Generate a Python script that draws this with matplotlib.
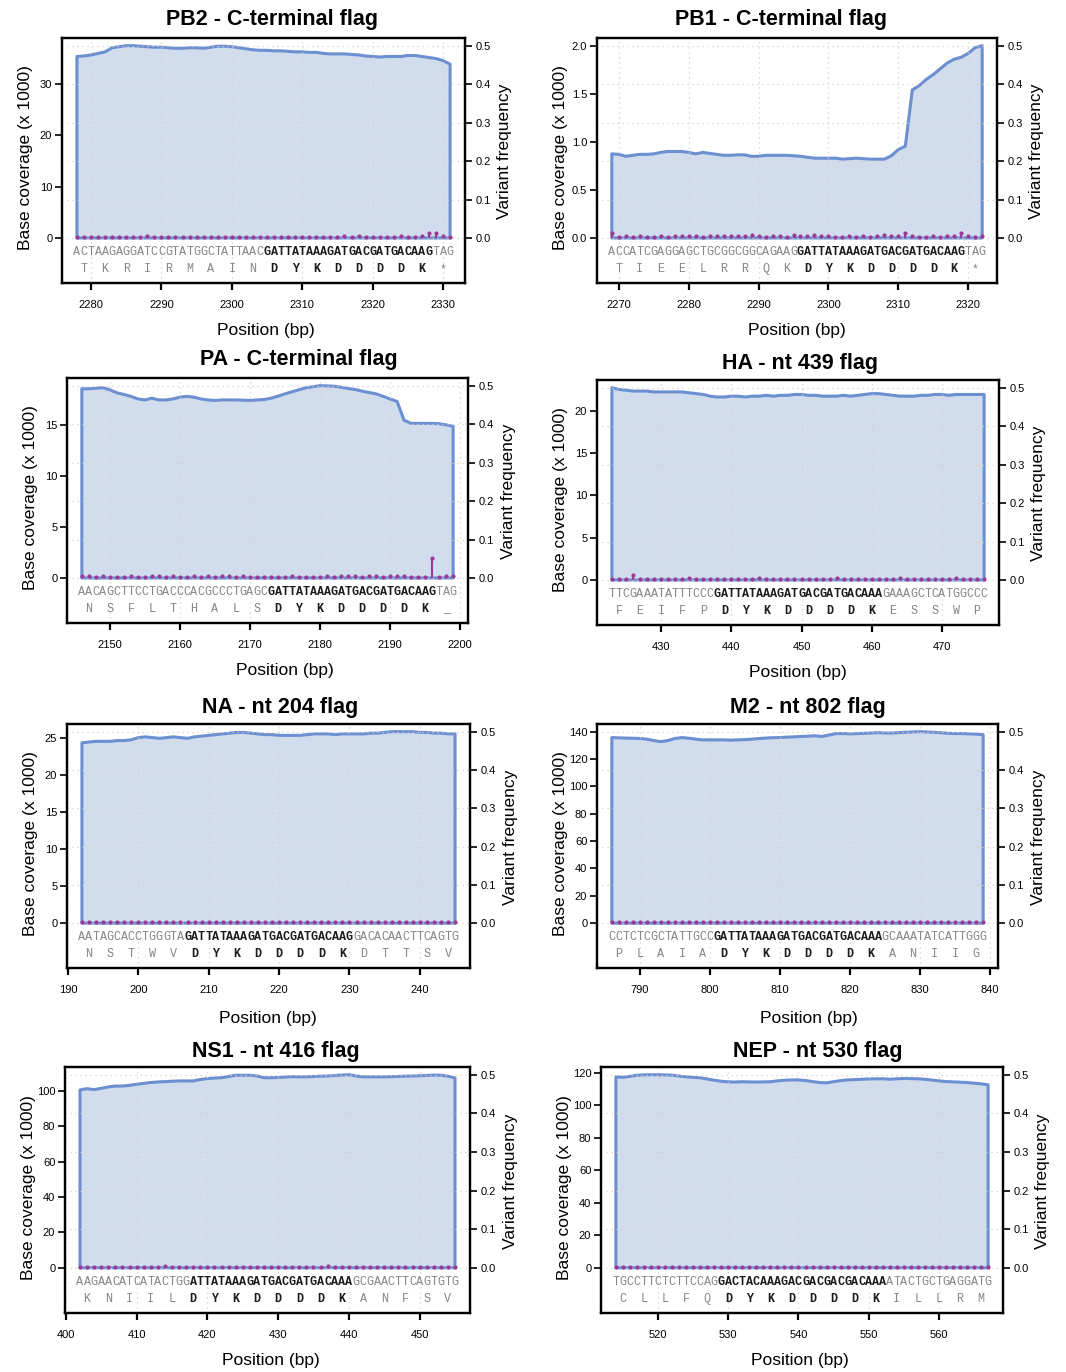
import numpy as np
import matplotlib.pyplot as plt

plt.rcParams['font.family'] = ['Liberation Sans', 'DejaVu Sans']

W, H = 1066, 1372
line_col = '#6b8fd1'
fill_col = '#d1dcec'
var_col = '#9a3a96'
grid_col = '#d9cfcf'
seq_gray = '#858585'
seq_dark = '#1a1a1a'

# ---- data (coverage in x1000 reads, one value per bp) ----
# nucleotides / amino acids: upper case = flag (bold), lower case = context
pb2_start = 2278
pb2_cov = [35.3, 35.4, 35.6, 35.9, 36.2, 37.0, 37.2, 37.4, 37.4,
           37.3, 37.2, 37.1, 37.1, 37.0, 36.9, 36.9, 37.0, 37.0,
           36.9, 37.1, 37.3, 37.3, 37.2, 37.0, 36.8, 36.6, 36.5,
           36.5, 36.4, 36.4, 36.3, 36.2, 36.2, 36.1, 36.1, 35.9,
           35.8, 35.8, 35.8, 35.7, 35.6, 35.4, 35.3, 35.2, 35.3,
           35.3, 35.3, 35.5, 35.5, 35.3, 35.1, 34.9, 34.5, 33.8]
pb2_var = [0.003, 0.002, 0.003, 0.002, 0.003, 0.003, 0.003, 0.002, 0.003,
           0.003, 0.004, 0.003, 0.003, 0.002, 0.003, 0.003, 0.003, 0.002,
           0.003, 0.003, 0.002, 0.003, 0.003, 0.003, 0.002, 0.003, 0.003,
           0.002, 0.003, 0.003, 0.003, 0.002, 0.003, 0.003, 0.002, 0.003,
           0.003, 0.003, 0.004, 0.003, 0.004, 0.003, 0.003, 0.003, 0.002,
           0.003, 0.004, 0.003, 0.003, 0.004, 0.014, 0.012, 0.005, 0.003]
pb2_nt = 'actaagaggatccgtatggctattaacGATTATAAAGATGACGATGACAAGtag'
pb2_aa = 'tkrirmainDYKDDDDK*'
pb2_xticks = [2280, 2290, 2300, 2310, 2320, 2330]
pb2_yticks = [0, 10, 20, 30]

pb1_start = 2269
pb1_cov = [0.875, 0.87, 0.85, 0.86, 0.87, 0.87, 0.875, 0.89, 0.90,
           0.90, 0.90, 0.89, 0.875, 0.89, 0.88, 0.87, 0.86, 0.86,
           0.865, 0.865, 0.85, 0.85, 0.86, 0.86, 0.86, 0.86, 0.855,
           0.85, 0.84, 0.83, 0.83, 0.83, 0.83, 0.82, 0.825, 0.83,
           0.825, 0.82, 0.82, 0.82, 0.855, 0.92, 0.955, 1.54, 1.585,
           1.65, 1.70, 1.76, 1.82, 1.86, 1.88, 1.92, 1.98, 2.0]
pb1_var = [0.014, 0.003, 0.004, 0.003, 0.006, 0.003, 0.003, 0.004, 0.003,
           0.004, 0.005, 0.004, 0.006, 0.003, 0.004, 0.005, 0.006, 0.005,
           0.006, 0.004, 0.007, 0.004, 0.003, 0.004, 0.005, 0.003, 0.009,
           0.006, 0.004, 0.008, 0.004, 0.005, 0.003, 0.002, 0.004, 0.003,
           0.004, 0.003, 0.005, 0.007, 0.004, 0.004, 0.012, 0.004, 0.003,
           0.003, 0.004, 0.003, 0.005, 0.004, 0.012, 0.006, 0.003, 0.004]
pb1_nt = 'accatcgaggagctgcggcggcagaagGATTATAAAGATGACGATGACAAGtag'
pb1_aa = 'tieelrrqkDYKDDDDK*'
pb1_xticks = [2270, 2280, 2290, 2300, 2310, 2320]
pb1_yticks = [0, 0.5, 1.0, 1.5, 2.0]

pa_start = 2146
pa_cov = [18.6, 18.6, 18.65, 18.7, 18.5, 18.2, 18.04, 17.85, 17.6,
          17.5, 17.67, 17.5, 17.5, 17.6, 17.77, 17.85, 17.77, 17.6,
          17.5, 17.45, 17.5, 17.5, 17.5, 17.48, 17.45, 17.5, 17.54,
          17.67, 17.87, 18.1, 18.3, 18.5, 18.7, 18.8, 18.9, 18.88,
          18.85, 18.75, 18.62, 18.53, 18.36, 18.23, 18.1, 17.85, 17.6,
          17.35, 15.5, 15.2, 15.2, 15.2, 15.2, 15.16, 15.05, 14.9]
pa_var = [0.004, 0.004, 0.003, 0.004, 0.003, 0.003, 0.003, 0.004, 0.003,
          0.003, 0.004, 0.005, 0.003, 0.004, 0.003, 0.003, 0.005, 0.003,
          0.004, 0.003, 0.004, 0.004, 0.003, 0.004, 0.003, 0.003, 0.003,
          0.003, 0.003, 0.003, 0.004, 0.003, 0.003, 0.003, 0.003, 0.004,
          0.003, 0.006, 0.004, 0.004, 0.003, 0.004, 0.004, 0.003, 0.005,
          0.004, 0.004, 0.003, 0.003, 0.003, 0.051, 0.003, 0.004, 0.004]
pa_nt = 'aacagcttcctgacccacgccctgagcGATTATAAAGATGACGATGACAAGtag'
pa_aa = 'nsflthalsDYKDDDDK_'
pa_xticks = [2150, 2160, 2170, 2180, 2190, 2200]
pa_yticks = [0, 5, 10, 15]

ha_start = 423
ha_cov = [22.7, 22.5, 22.4, 22.3, 22.3, 22.3, 22.2, 22.2, 22.2,
          22.2, 22.2, 22.1, 22.0, 21.9, 21.7, 21.6, 21.6, 21.7,
          21.7, 21.6, 21.7, 21.7, 21.8, 21.7, 21.8, 21.8, 21.9,
          21.9, 21.8, 21.8, 21.7, 21.7, 21.7, 21.8, 21.7, 21.8,
          21.9, 22.0, 22.0, 21.9, 21.8, 21.7, 21.7, 21.7, 21.8,
          21.8, 21.9, 21.9, 21.8, 21.9, 21.9, 21.9, 21.9, 21.9]
ha_var = [0.003, 0.003, 0.002, 0.012, 0.003, 0.002, 0.003, 0.003, 0.002,
          0.003, 0.003, 0.004, 0.003, 0.002, 0.003, 0.003, 0.003, 0.002,
          0.003, 0.003, 0.003, 0.004, 0.003, 0.003, 0.002, 0.003, 0.003,
          0.003, 0.002, 0.003, 0.003, 0.003, 0.004, 0.003, 0.003, 0.002,
          0.003, 0.003, 0.003, 0.002, 0.003, 0.004, 0.003, 0.003, 0.003,
          0.002, 0.003, 0.003, 0.003, 0.004, 0.003, 0.003, 0.002, 0.003]
ha_nt = 'ttcgaaatatttcccGATTATAAAGATGACGATGACAAAgaaagctcatggccc'
ha_aa = 'feifpDYKDDDDKesswp'
ha_xticks = [430, 440, 450, 460, 470]
ha_yticks = [0, 5, 10, 15, 20]

na_start = 192
na_cov = [24.3, 24.4, 24.5, 24.5, 24.5, 24.6, 24.6, 24.7, 25.0,
          25.1, 25.0, 24.9, 25.0, 25.1, 25.0, 24.9, 25.1, 25.2,
          25.3, 25.4, 25.5, 25.6, 25.7, 25.7, 25.6, 25.5, 25.4,
          25.4, 25.3, 25.3, 25.3, 25.3, 25.4, 25.5, 25.5, 25.5,
          25.4, 25.5, 25.5, 25.5, 25.5, 25.6, 25.6, 25.7, 25.8,
          25.8, 25.8, 25.8, 25.7, 25.7, 25.6, 25.6, 25.5, 25.5]
na_var = [0.003, 0.003, 0.002, 0.003, 0.003, 0.003, 0.002, 0.003, 0.003,
          0.004, 0.003, 0.003, 0.002, 0.003, 0.003, 0.003, 0.003, 0.002,
          0.003, 0.003, 0.003, 0.003, 0.002, 0.003, 0.003, 0.003, 0.003,
          0.003, 0.002, 0.003, 0.003, 0.003, 0.003, 0.003, 0.002, 0.003,
          0.003, 0.003, 0.002, 0.003, 0.003, 0.003, 0.003, 0.002, 0.003,
          0.003, 0.003, 0.003, 0.002, 0.003, 0.003, 0.003, 0.003, 0.003]
na_nt = 'aatagcacctgggtaGATTATAAAGATGACGATGACAAGgacacaacttcagtg'
na_aa = 'nstwvDYKDDDDKdttsv'
na_xticks = [190, 200, 210, 220, 230, 240]
na_yticks = [0, 5, 10, 15, 20, 25]

m2_start = 786
m2_cov = [135.7, 135.5, 135.3, 135.2, 135.0, 134.5, 133.5, 132.7, 133.5,
          135.0, 135.7, 135.2, 134.5, 134.0, 134.0, 134.0, 134.0, 133.8,
          134.0, 134.2, 134.5, 135.0, 135.3, 135.6, 135.7, 136.0, 136.2,
          136.5, 136.7, 137.0, 136.5, 137.5, 138.6, 138.6, 138.4, 138.6,
          138.8, 139.0, 139.3, 139.0, 139.0, 139.3, 139.6, 139.8, 140.0,
          139.8, 139.5, 139.2, 138.8, 138.6, 138.6, 138.4, 138.2, 137.8]
m2_var = [0.003, 0.003, 0.003, 0.002, 0.003, 0.003, 0.003, 0.003, 0.002,
          0.003, 0.003, 0.003, 0.003, 0.003, 0.002, 0.003, 0.003, 0.003,
          0.003, 0.002, 0.003, 0.003, 0.003, 0.003, 0.003, 0.002, 0.003,
          0.003, 0.003, 0.003, 0.003, 0.002, 0.003, 0.003, 0.003, 0.003,
          0.002, 0.003, 0.003, 0.003, 0.003, 0.003, 0.002, 0.003, 0.003,
          0.003, 0.003, 0.002, 0.003, 0.003, 0.003, 0.003, 0.002, 0.003]
m2_nt = 'cctctcgctattgccGATTATAAAGATGACGATGACAAAgcaaatatcattggg'
m2_aa = 'plaiaDYKDDDDKaniig'
m2_xticks = [790, 800, 810, 820, 830, 840]
m2_yticks = [0, 20, 40, 60, 80, 100, 120, 140]

ns1_start = 402
ns1_cov = [100.6, 101.3, 100.8, 101.5, 102.3, 102.8, 102.8, 103.2, 103.8,
           104.3, 104.8, 105.1, 105.3, 105.5, 105.7, 105.7, 105.7, 106.5,
           107.0, 107.3, 107.5, 108.2, 108.9, 108.9, 108.9, 108.5, 107.5,
           107.5, 107.6, 107.9, 108.1, 108.0, 108.0, 108.2, 108.4, 108.5,
           108.7, 109.0, 109.2, 108.5, 108.0, 108.0, 108.0, 108.0, 108.1,
           108.2, 108.4, 108.5, 108.6, 108.8, 109.0, 108.9, 108.4, 107.4]
ns1_var = [0.003, 0.003, 0.002, 0.003, 0.003, 0.003, 0.003, 0.002, 0.003,
           0.003, 0.003, 0.003, 0.004, 0.003, 0.003, 0.002, 0.003, 0.003,
           0.003, 0.003, 0.002, 0.003, 0.003, 0.003, 0.003, 0.003, 0.002,
           0.003, 0.003, 0.003, 0.003, 0.002, 0.003, 0.003, 0.003, 0.004,
           0.003, 0.003, 0.002, 0.003, 0.003, 0.003, 0.003, 0.002, 0.003,
           0.003, 0.003, 0.003, 0.002, 0.003, 0.003, 0.003, 0.003, 0.003]
ns1_nt = 'aagaacatcatactggATTATAAAGATGACGATGACAAAgcgaacttcagtgtg'
ns1_aa = 'kniilDYKDDDDKanfsv'
ns1_xticks = [400, 410, 420, 430, 440, 450]
ns1_yticks = [0, 20, 40, 60, 80, 100]

nep_start = 514
nep_cov = [117.5, 117.2, 117.8, 118.5, 118.7, 118.8, 118.8, 118.7, 118.5,
           118.0, 117.5, 117.2, 116.9, 116.2, 115.4, 114.8, 114.4, 114.3,
           114.5, 114.4, 114.3, 114.4, 114.5, 115.0, 115.4, 115.6, 115.6,
           115.2, 114.6, 114.0, 113.8, 114.5, 115.2, 115.6, 115.8, 116.0,
           116.2, 116.3, 116.3, 116.0, 116.3, 116.5, 116.4, 116.3, 116.0,
           115.5, 115.0, 114.6, 114.4, 114.2, 114.0, 113.6, 113.2, 112.6]
nep_var = [0.003, 0.003, 0.003, 0.002, 0.003, 0.003, 0.003, 0.003, 0.002,
           0.003, 0.003, 0.003, 0.003, 0.002, 0.003, 0.003, 0.003, 0.003,
           0.003, 0.002, 0.003, 0.003, 0.003, 0.003, 0.003, 0.002, 0.003,
           0.003, 0.003, 0.003, 0.002, 0.003, 0.003, 0.003, 0.003, 0.003,
           0.002, 0.003, 0.003, 0.003, 0.003, 0.002, 0.003, 0.003, 0.003,
           0.003, 0.003, 0.002, 0.003, 0.003, 0.003, 0.003, 0.002, 0.003]
nep_nt = 'tgccttctcttccagGACTACAAAGACGACGACGACAAAatactgctgaggatg'
nep_aa = 'cllfqDYKDDDDKillrm'
nep_xticks = [520, 530, 540, 550, 560]
nep_yticks = [0, 20, 40, 60, 80, 100, 120]

var_ticks = [0.0, 0.1, 0.2, 0.3, 0.4, 0.5]

# layout in pixels: box (left, top, right, bottom), title centre, xlabel centre
panels = [
    ('PB2 - C-terminal flag', pb2_start, pb2_cov, pb2_var, pb2_nt, pb2_aa, pb2_xticks, pb2_yticks,
     (62, 38, 465, 283), (272, 20), (266, 330)),
    ('PB1 - C-terminal flag', pb1_start, pb1_cov, pb1_var, pb1_nt, pb1_aa, pb1_xticks, pb1_yticks,
     (597, 38, 997, 283), (781, 20), (797, 330)),
    ('PA - C-terminal flag', pa_start, pa_cov, pa_var, pa_nt, pa_aa, pa_xticks, pa_yticks,
     (67, 378, 468, 623), (299, 360), (285, 670)),
    ('HA - nt 439 flag', ha_start, ha_cov, ha_var, ha_nt, ha_aa, ha_xticks, ha_yticks,
     (597, 380, 999, 625), (800, 363), (798, 673)),
    ('NA - nt 204 flag', na_start, na_cov, na_var, na_nt, na_aa, na_xticks, na_yticks,
     (67, 724, 470, 968), (280, 708), (268, 1019)),
    ('M2 - nt 802 flag', m2_start, m2_cov, m2_var, m2_nt, m2_aa, m2_xticks, m2_yticks,
     (597, 724, 998, 968), (808, 708), (809, 1019)),
    ('NS1 - nt 416 flag', ns1_start, ns1_cov, ns1_var, ns1_nt, ns1_aa, ns1_xticks, ns1_yticks,
     (65, 1067, 470, 1313), (276, 1051), (271, 1361)),
    ('NEP - nt 530 flag', nep_start, nep_cov, nep_var, nep_nt, nep_aa, nep_xticks, nep_yticks,
     (601, 1067, 1003, 1313), (818, 1051), (800, 1361)),
]

var_lim = (-0.117, 0.52)
mono = ['Liberation Mono', 'DejaVu Sans Mono']


def fmt_ticks(ticks):
    if any(t != int(t) for t in ticks):
        return ['%.1f' % t for t in ticks]
    return ['%d' % t for t in ticks]


def draw_panel(fig, title, start, cov, var, nt, aa, xticks, yticks, box, title_xy, xlab_xy):
    L, T, R, B = box
    ax = fig.add_axes([L / W, 1 - B / H, (R - L) / W, (B - T) / H])
    ax2 = ax.twinx()

    cov = np.asarray(cov)
    var = np.asarray(var)
    pos = np.arange(start, start + len(cov))

    # coverage polygon
    ax.fill(np.r_[pos[0], pos, pos[-1]], np.r_[0, cov, 0],
            facecolor=fill_col, edgecolor=line_col, lw=2.2, joinstyle='round', zorder=1)

    top = cov.max() * 1.04
    ax.set_ylim(top * var_lim[0] / var_lim[1], top)
    ax.set_xlim(pos[0] - 0.04 * (pos[-1] - pos[0]), pos[-1] + 0.04 * (pos[-1] - pos[0]))
    ax.set_yticks(yticks)
    ax.set_yticklabels(fmt_ticks(yticks))
    ax.set_xticks(xticks)

    # grid
    for xt in xticks:
        ax2.axvline(xt, color=grid_col, lw=0.9, ls=(0, (1, 3)), zorder=0)
    for yt in var_ticks:
        ax2.axhline(yt, color=grid_col, lw=0.9, ls=(0, (1, 3)), zorder=0)

    # variant frequency
    ax2.vlines(pos, 0, var, color=var_col, lw=1.5, zorder=3)
    ax2.plot(pos, var, 'o', ms=3.0, color=var_col, mec='none', zorder=3)
    ax2.set_ylim(*var_lim)
    ax2.set_yticks(var_ticks)
    ax2.set_yticklabels(['%.1f' % t for t in var_ticks])

    # sequence rows
    for i, ch in enumerate(nt):
        bold = ch.isupper()
        ax2.text(pos[i], -0.037, ch.upper(), ha='center', va='center',
                 family=mono, fontsize=8.5, fontweight='bold' if bold else 'normal',
                 color=seq_dark if bold else seq_gray, zorder=4)
    for j, ch in enumerate(aa):
        bold = ch.isupper()
        ax2.text(start + 3 * j + 1, -0.081, ch.upper(), ha='center', va='center',
                 family=mono, fontsize=8.5, fontweight='bold' if bold else 'normal',
                 color=seq_dark if bold else seq_gray, zorder=4)

    for a in (ax, ax2):
        for s in a.spines.values():
            s.set_linewidth(1.6)
    ax.tick_params(axis='y', direction='out', length=5, width=1.2, labelsize=8, pad=2)
    ax.tick_params(axis='x', direction='out', length=5, width=1.6, labelsize=8, pad=7)
    ax2.tick_params(axis='y', direction='out', length=5, width=1.2, labelsize=8, pad=3)

    # labels
    ax.annotate('Base coverage (x 1000)', xy=(0, 0.51), xycoords='axes fraction',
                xytext=(-36, 0), textcoords='offset pixels', rotation=90,
                ha='center', va='center', fontsize=12.5)
    ax2.annotate('Variant frequency', xy=(1, 0.537), xycoords='axes fraction',
                 xytext=(40, 0), textcoords='offset pixels', rotation=90,
                 ha='center', va='center', fontsize=12.5)
    fig.text(title_xy[0] / W, 1 - title_xy[1] / H, title, ha='center', va='center',
             fontsize=15.5, fontweight='bold')
    fig.text(xlab_xy[0] / W, 1 - xlab_xy[1] / H, 'Position (bp)', ha='center', va='center',
             fontsize=12.5)


fig = plt.figure(figsize=(W / 100, H / 100), dpi=100)
for p in panels:
    draw_panel(fig, *p)
fig.savefig('out.png', dpi=100)
